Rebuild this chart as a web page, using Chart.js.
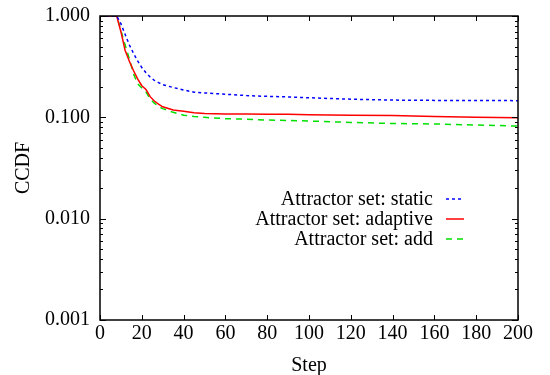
<!DOCTYPE html>
<html>
<head>
<meta charset="utf-8">
<script src="https://cdn.jsdelivr.net/npm/chart.js@4"></script>
<style>
html,body{margin:0;padding:0;background:#fff;}
#wrap{width:550px;height:375px;position:relative;}
</style>
</head>
<body>
<div id="wrap"><canvas id="c" width="550" height="375"></canvas></div>
<script>
// ---- data ----
const steps = [0,5,8,10,12,14,16,18,20,22,24,26,28,30,35,40,45,50,60,70,80,90,100,120,140,160,180,200];
const staticVals   = [1,1,1,0.84,0.66,0.52,0.43,0.36,0.31,0.275,0.25,0.232,0.22,0.21,0.197,0.186,0.177,0.174,0.169,0.164,0.161,0.159,0.156,0.151,0.148,0.147,0.147,0.146];
const adaptiveVals = [1,1,1,0.70,0.46,0.36,0.29,0.24,0.205,0.188,0.16,0.145,0.135,0.127,0.118,0.115,0.111,0.109,0.108,0.108,0.107,0.107,0.106,0.105,0.104,0.102,0.100,0.099];
const addVals      = [1,1,1,0.72,0.52,0.38,0.27,0.215,0.195,0.178,0.152,0.138,0.128,0.122,0.112,0.105,0.102,0.100,0.097,0.096,0.094,0.093,0.092,0.089,0.087,0.086,0.084,0.082];
const seriesLabels = ['Attractor set: static','Attractor set: adaptive','Attractor set: add'];
const yMajorTicks = [0.001,0.01,0.1,1];
const yTickLabels = ['0.001','0.010','0.100','1.000'];
const xTicks = [0,20,40,60,80,100,120,140,160,180,200];

const FONT = "'Liberation Serif', 'Times New Roman', serif";
const toXY = vals => steps.map((s,i)=>({x:s,y:vals[i]}));

const frameTicks = {
  id:'frameTicks',
  afterDraw(chart){
    const ctx = chart.ctx, a = chart.chartArea;
    const xs = chart.scales.x, ys = chart.scales.y;
    ctx.save();
    ctx.strokeStyle = '#000';
    ctx.lineWidth = 1;
    ctx.beginPath();
    xs.ticks.forEach(t=>{
      const px = Math.round(xs.getPixelForValue(t.value))+0.5;
      ctx.moveTo(px,a.bottom); ctx.lineTo(px,a.bottom-5);
      ctx.moveTo(px,a.top); ctx.lineTo(px,a.top+5);
    });
    ys.ticks.forEach(t=>{
      const major = yMajorTicks.some(v=>Math.abs(v-t.value)/v<1e-6);
      const len = major?6:3;
      const py = Math.round(ys.getPixelForValue(t.value))+0.5;
      ctx.moveTo(a.left,py); ctx.lineTo(a.left+len,py);
      ctx.moveTo(a.right,py); ctx.lineTo(a.right-len,py);
    });
    ctx.stroke();
    ctx.lineWidth = 1.5;
    ctx.strokeRect(a.left,a.top,a.right-a.left,a.bottom-a.top);
    // legend
    ctx.font = '20px '+FONT;
    ctx.fillStyle = '#000';
    ctx.textAlign = 'right';
    ctx.textBaseline = 'middle';
    const rowY = [199,219,239];
    chart.data.datasets.forEach((ds,i)=>{
      ctx.fillText(ds.label, 433, rowY[i]+1);
      ctx.beginPath();
      ctx.strokeStyle = ds.borderColor;
      ctx.lineWidth = ds.borderWidth;
      ctx.setLineDash(ds.borderDash||[]);
      ctx.moveTo(446,rowY[i]); ctx.lineTo(464,rowY[i]);
      ctx.stroke();
    });
    ctx.restore();
  }
};

new Chart(document.getElementById('c'),{
  type:'line',
  data:{
    datasets:[
      {label:seriesLabels[0],data:toXY(staticVals),borderColor:'#0000ff',borderWidth:1.5,borderDash:[3,3]},
      {label:seriesLabels[1],data:toXY(adaptiveVals),borderColor:'#ff0000',borderWidth:1.5},
      {label:seriesLabels[2],data:toXY(addVals),borderColor:'#00e000',borderWidth:1.5,borderDash:[6,5]}
    ]
  },
  options:{
    responsive:false,
    animation:false,
    devicePixelRatio:1,
    layout:{padding:{left:0,right:32,top:16,bottom:0}},
    elements:{point:{radius:0},line:{tension:0,fill:false}},
    plugins:{legend:{display:false},tooltip:{enabled:false}},
    scales:{
      x:{
        type:'linear',min:0,max:200,
        afterBuildTicks(s){ s.ticks = xTicks.map(v=>({value:v})); },
        afterFit(s){ s.height = 55; s.paddingLeft = 0; s.paddingRight = 0; },
        grid:{display:false,drawTicks:false},
        border:{display:false},
        ticks:{font:{family:FONT,size:20},color:'#000',padding:2,maxRotation:0,autoSkip:false},
        title:{display:true,text:'Step',font:{family:FONT,size:20},color:'#000',padding:{top:0,bottom:-3}}
      },
      y:{
        type:'logarithmic',min:0.001,max:1,
        afterBuildTicks(s){
          const t=[];
          yMajorTicks.forEach((m,i)=>{
            t.push({value:m});
            if(i<yMajorTicks.length-1){ for(let k=2;k<=9;k++) t.push({value:m*k}); }
          });
          s.ticks=t;
        },
        afterFit(s){ s.width = 100; s.paddingTop = 0; s.paddingBottom = 0; },
        grid:{display:false,drawTicks:false},
        border:{display:false},
        ticks:{
          font:{family:FONT,size:20,lineHeight:1},color:'#000',padding:10,autoSkip:false,
          callback(v){
            const i = yMajorTicks.findIndex(m=>Math.abs(m-v)/m<1e-6);
            return i>=0 ? yTickLabels[i] : '';
          }
        },
        title:{display:true,text:'CCDF',font:{family:FONT,size:20},color:'#000',padding:{top:12,bottom:0}}
      }
    }
  },
  plugins:[frameTicks]
});
</script>
</body>
</html>
